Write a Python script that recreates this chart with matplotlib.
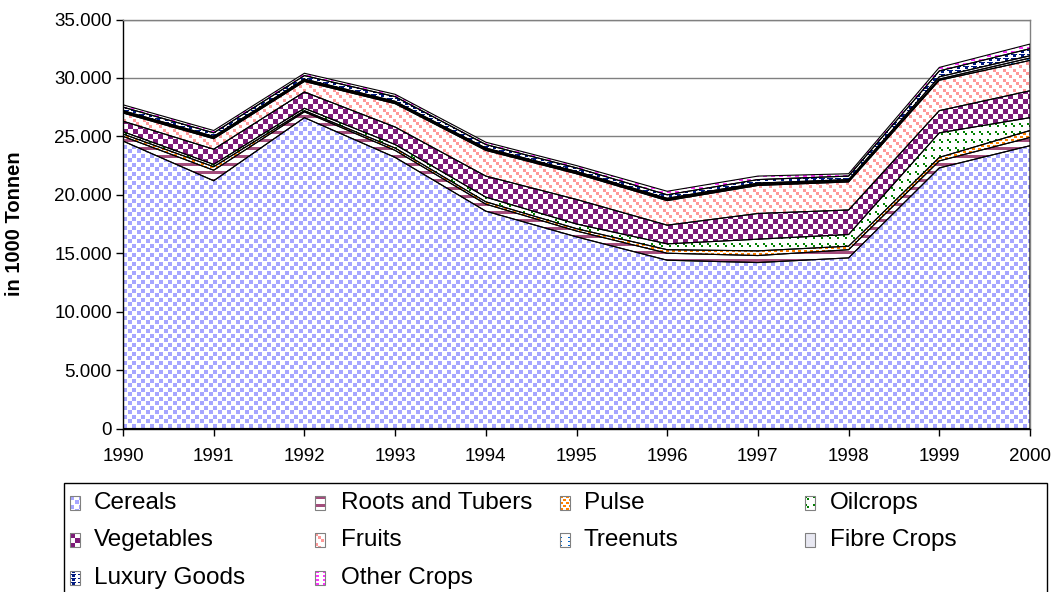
import numpy as np
import matplotlib
matplotlib.use("Agg")
import matplotlib.pyplot as plt
from matplotlib.patches import Rectangle
from matplotlib.ticker import FuncFormatter, MultipleLocator

plt.rcParams['font.family'] = ['Liberation Sans', 'DejaVu Sans']

# ---------------- data (1000 t) ----------------
years = ['1990', '1991', '1992', '1993', '1994', '1995', '1996', '1997', '1998', '1999', '2000']
cereals    = [24600, 21200, 26600, 23200, 18600, 16400, 14400, 14200, 14600, 22300, 24200]
roots      = [400, 900, 500, 600, 600, 500, 600, 600, 700, 600, 700]
pulse      = [200, 300, 100, 200, 200, 200, 300, 400, 300, 300, 600]
oilcrops   = [200, 200, 200, 300, 400, 400, 500, 1000, 1000, 2100, 1100]
vegetables = [900, 1300, 1400, 1500, 1800, 2100, 1600, 2200, 2100, 1900, 2300]
fruits     = [700, 900, 900, 2000, 2200, 2200, 2100, 2400, 2400, 2600, 2600]
treenuts   = [100, 100, 100, 100, 100, 100, 100, 100, 100, 100, 200]
fibre      = [100, 100, 100, 100, 100, 100, 100, 100, 100, 200, 200]
luxury     = [300, 300, 300, 400, 300, 300, 300, 300, 300, 500, 600]
other      = [200, 200, 200, 200, 200, 200, 300, 300, 200, 300, 400]

series_names = ['Cereals', 'Roots and Tubers', 'Pulse', 'Oilcrops', 'Vegetables',
                'Fruits', 'Treenuts', 'Fibre Crops', 'Luxury Goods', 'Other Crops']
series_vals = [cereals, roots, pulse, oilcrops, vegetables, fruits, treenuts, fibre, luxury, other]
y_label = 'in 1000 Tonnen'

# ---------------- fill patterns ----------------
def hex2rgb(h):
    h = h.lstrip('#')
    return np.array([int(h[i:i + 2], 16) / 255 for i in (0, 2, 4)])

def make_tile(rows, fg, bg='#FFFFFF'):
    t = np.array([[c == '#' for c in r] for r in rows])
    out = np.ones(t.shape + (4,))
    out[..., :3] = np.where(t[..., None], hex2rgb(fg), hex2rgb(bg))
    return out

patterns = {
    'Cereals': make_tile(["####.....",
                          "####.....",
                          "####.....",
                          "####.....",
                          ".....####",
                          ".....####",
                          ".....####",
                          ".....####",
                          "........."], '#A6A6FF'),
    'Roots and Tubers': make_tile(["#", "#", "#", ".", ".", ".", ".", "."], '#A34D7C'),
    'Pulse': make_tile(["###...", "###...", "......", "...###", "...###", "......"], '#FF8000'),
    'Oilcrops': make_tile(["##......",
                           "##......",
                           "..##....",
                           "..##....",
                           "........",
                           "........",
                           "........",
                           "........"], '#008000'),
    'Vegetables': make_tile(["#####.....", "#####.....", "#####.....", "#####.....", "#####.....",
                             ".....#####", ".....#####", ".....#####", ".....#####", ".....#####"],
                            '#7D1A78'),
    'Fruits': make_tile(["###.......",
                         "###.......",
                         "###.......",
                         "...###....",
                         "...###....",
                         "...###....",
                         "......###.",
                         "......###.",
                         "......###.",
                         ".........."], '#FF9999'),
    'Treenuts': make_tile(["##......", "........", "........", "........"], '#0066CC'),
    'Fibre Crops': make_tile(["."], '#000000', '#E8E8F2'),
    'Luxury Goods': make_tile(["..###...", "..###...", "........", "######.."], '#001A80'),
    'Other Crops': make_tile(["####....", "####....", "........", "........"], '#FF33FF'),
}

def tiled(tile, h, w):
    th, tw = tile.shape[:2]
    reps = (h // th + 1, w // tw + 1, 1)
    return np.tile(tile, reps)[:h, :w]

# ---------------- figure ----------------
W, H = 1053, 592
fig = plt.figure(figsize=(W / 100, H / 100), dpi=100)
left_px, right_px, top_px, bot_px = 123, 1030, 19.5, 428.5
ax = fig.add_axes([left_px / W, 1 - bot_px / H, (right_px - left_px) / W, (bot_px - top_px) / H])

x = np.arange(len(years))
ymax = 35000
bbox = ax.get_window_extent()
pw, ph = int(round(bbox.width)), int(round(bbox.height))

base = np.zeros(len(years))
for name, vals in zip(series_names, series_vals):
    top = base + np.array(vals, dtype=float)
    poly = ax.fill_between(x, base, top, facecolor='none', edgecolor='black',
                           linewidth=0.8, zorder=3)
    img = ax.imshow(tiled(patterns[name], ph, pw), extent=[0, len(years) - 1, 0, ymax],
                    aspect='auto', interpolation='nearest', zorder=2)
    img.set_clip_path(poly.get_paths()[0], ax.transData)
    base = top

ax.set_xlim(0, len(years) - 1)
ax.set_ylim(0, ymax)
ax.set_xticks(x)
ax.set_xticklabels(years)
ax.yaxis.set_major_locator(MultipleLocator(5000))
ax.yaxis.set_major_formatter(FuncFormatter(lambda v, p: f"{v:,.0f}".replace(',', '.')))
ax.tick_params(axis='both', direction='out', length=5, width=1, colors='black',
               labelsize=13.5)
ax.tick_params(axis='x', pad=9)
ax.tick_params(axis='y', pad=3)
ax.yaxis.grid(True, color='#808080', linewidth=1)
ax.set_axisbelow(True)
for s in ['top', 'right']:
    ax.spines[s].set_color('#808080')
    ax.spines[s].set_linewidth(1)
for s in ['left', 'bottom']:
    ax.spines[s].set_color('black')
    ax.spines[s].set_linewidth(1)
ax.set_ylabel(y_label, fontsize=14.5, fontweight='bold')
ax.yaxis.set_label_coords((24 - left_px) / (right_px - left_px), 0.5)

# ---------------- legend ----------------
lg = fig.add_axes([0, 0, 1, 1], facecolor='none')
lg.set_axis_off()
lg.add_patch(Rectangle((64, 483), 983, 130, facecolor='white', edgecolor='black',
                       linewidth=1, zorder=1))
order = ['Cereals', 'Roots and Tubers', 'Pulse', 'Oilcrops',
         'Vegetables', 'Fruits', 'Treenuts', 'Fibre Crops',
         'Luxury Goods', 'Other Crops']
sw_x = [70, 315, 560, 805]
tx_x = [94, 341, 584, 830]
row_y = [503, 540, 578]
for i, name in enumerate(order):
    c, r = i % 4, i // 4
    y0 = row_y[r] - 7
    lg.imshow(tiled(patterns[name], 14, 10), extent=[sw_x[c], sw_x[c] + 10, y0 + 14, y0],
              aspect='auto', interpolation='nearest', zorder=2)
    lg.add_patch(Rectangle((sw_x[c], y0), 10, 14, facecolor='none', edgecolor='#808080',
                           linewidth=0.8, zorder=3))
    lg.text(tx_x[c], row_y[r], name, fontsize=17.5, va='center', ha='left', zorder=4)
lg.set_xlim(0, W)
lg.set_ylim(H, 0)

fig.savefig('out.png', dpi=100)
